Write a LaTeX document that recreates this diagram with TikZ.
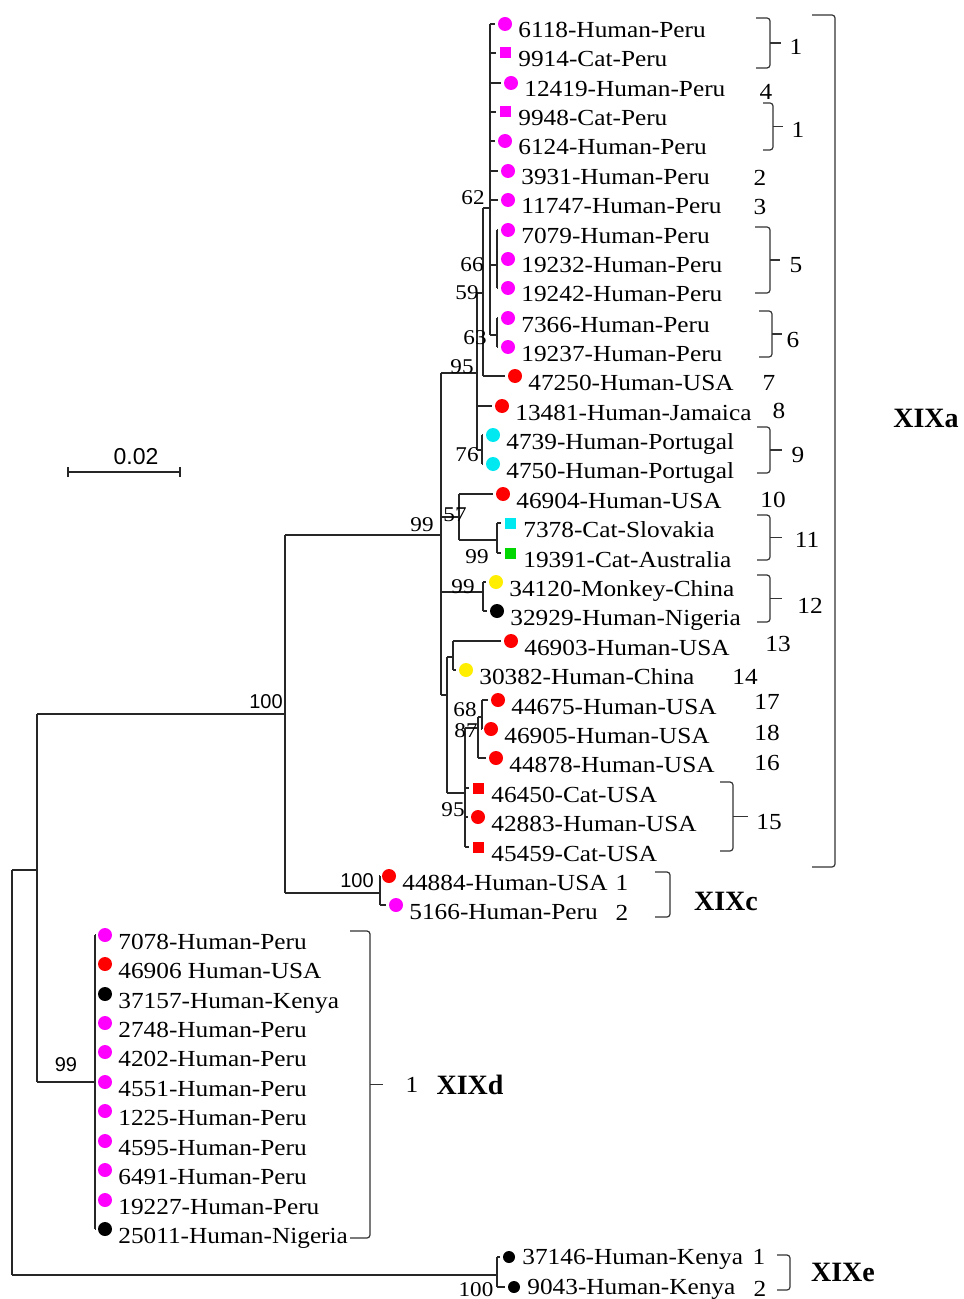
\documentclass[tikz,border=0pt]{standalone}
\usepackage{fontspec}
\setmainfont{Liberation Serif}[FakeStretch=1.1]
\setsansfont{Liberation Sans}
\newfontfamily\cladefont{Liberation Serif}
\definecolor{pink}{RGB}{255,0,255}
\definecolor{scarlet}{RGB}{255,0,0}
\definecolor{aqua}{RGB}{0,232,240}
\definecolor{lime}{RGB}{0,215,0}
\definecolor{gold}{RGB}{255,238,0}
\definecolor{ink}{RGB}{0,0,0}
\tikzset{
  br/.style={line width=0.65pt,draw=black!85},
  brk/.style={line width=0.6pt,draw=black!80,rounded corners=1.5pt},
  dot/.style={circle,inner sep=0pt,minimum size=7pt},
  sq/.style={rectangle,inner sep=0pt,minimum size=5.5pt},
  dotE/.style={dot,minimum size=6pt,yshift=-3.5pt},
  leaf/.style={anchor=base west,inner sep=0pt,font=\fontsize{11.5}{13}\selectfont},
  num/.style={inner sep=0pt,font=\fontsize{11.5}{13}\selectfont},
  boot/.style={inner sep=0pt,font=\fontsize{10.5}{12}\selectfont},
  bootS/.style={inner sep=0pt,font=\sffamily\fontsize{10}{12}\selectfont},
  clade/.style={inner sep=0pt,font=\cladefont\fontsize{14}{16}\selectfont\bfseries}
}
\begin{document}
\begin{tikzpicture}[x=0.5pt,y=-0.5pt]
  \useasboundingbox (0,0) rectangle (963,1299);

  \foreach \i/\mx/\yc/\col/\shp/\txt in {
    1/505/31/pink/dot/6118-Human-Peru, 2/505/60/pink/sq/9914-Cat-Peru,
    3/511/90/pink/dot/12419-Human-Peru, 4/505/119/pink/sq/9948-Cat-Peru,
    5/505/148/pink/dot/6124-Human-Peru, 6/508/178/pink/dot/3931-Human-Peru,
    7/508/207/pink/dot/11747-Human-Peru, 8/508/237/pink/dot/7079-Human-Peru,
    9/508/266/pink/dot/19232-Human-Peru, 10/508/295/pink/dot/19242-Human-Peru,
    11/508/325/pink/dot/7366-Human-Peru, 12/508/354/pink/dot/19237-Human-Peru,
    13/515/383/scarlet/dot/47250-Human-USA, 14/502/413/scarlet/dot/13481-Human-Jamaica,
    15/493/442/aqua/dot/4739-Human-Portugal, 16/493/471/aqua/dot/4750-Human-Portugal,
    17/503/501/scarlet/dot/46904-Human-USA, 18/510/530/aqua/sq/7378-Cat-Slovakia,
    19/510/560/lime/sq/19391-Cat-Australia, 20/496/589/gold/dot/34120-Monkey-China,
    21/497/618/ink/dot/32929-Human-Nigeria, 22/511/648/scarlet/dot/46903-Human-USA,
    23/466/677/gold/dot/30382-Human-China, 24/498/707/scarlet/dot/44675-Human-USA,
    25/491/736/scarlet/dot/46905-Human-USA, 26/496/765/scarlet/dot/44878-Human-USA,
    27/478/795/scarlet/sq/46450-Cat-USA, 28/478/824/scarlet/dot/42883-Human-USA,
    29/478/854/scarlet/sq/45459-Cat-USA, 30/389/883/scarlet/dot/44884-Human-USA,
    31/396/912/pink/dot/5166-Human-Peru,
    32/105/942/pink/dot/7078-Human-Peru, 33/105/971/scarlet/dot/46906 Human-USA,
    34/105/1001/ink/dot/37157-Human-Kenya, 35/105/1030/pink/dot/2748-Human-Peru,
    36/105/1059/pink/dot/4202-Human-Peru, 37/105/1089/pink/dot/4551-Human-Peru,
    38/105/1118/pink/dot/1225-Human-Peru, 39/105/1148/pink/dot/4595-Human-Peru,
    40/105/1177/pink/dot/6491-Human-Peru, 41/105/1207/pink/dot/19227-Human-Peru,
    42/105/1236/ink/dot/25011-Human-Nigeria,
    43/509/1257/ink/dotE/37146-Human-Kenya, 44/514/1287/ink/dotE/9043-Human-Kenya}{
    \node[\shp,fill=\col] (m\i) at (\mx,\yc-7) {};
    \node[leaf] (l\i) at (\mx+13,\yc+7) {\txt};
    \coordinate (t\i) at ([xshift=-1.5pt]m\i.west);
  }

  \coordinate (root) at (12,870);
  \coordinate (nA) at (37,870);
  \coordinate (nB) at (285,714);
  \coordinate (nC) at (380,893);
  \coordinate (nD) at (95,1082);
  \coordinate (nE) at (497,1275);
  \coordinate (n99) at (441,535);
  \coordinate (n95) at (477,373);
  \coordinate (n59) at (483,293);
  \coordinate (n62) at (490,208);
  \coordinate (n66) at (497,265);
  \coordinate (n63) at (497,335);
  \coordinate (n76) at (482,450);
  \coordinate (n57) at (459,517);
  \coordinate (n99c) at (497,540);
  \coordinate (n99b) at (483,592);
  \coordinate (nX) at (447,695);
  \coordinate (nY) at (453,657);
  \coordinate (n95b) at (465,793);
  \coordinate (n87) at (478,728);
  \coordinate (n68) at (482,717);

  \foreach \p/\a/\b in {root/nA/nE, nA/nB/nD, nB/n99/nC, nC/t30/t31, nD/t32/t42,
    nE/t43/t44, n99/n95/nX, n95/n59/n76, n59/n62/t13, n62/t1/n63, n66/t8/t10,
    n63/t11/t12, n76/t15/t16, n57/t17/n99c, n99c/t18/t19, n99b/t20/t21,
    nX/nY/n95b, nY/t22/t23, n95b/n87/t29, n87/n68/t26, n68/t24/t25}
    \draw[br] (\p |- \a) -- (\p |- \b);

  \foreach \p/\c in {root/nA, root/nE, nA/nB, nA/nD, nB/n99, nB/nC, nC/t30, nC/t31,
    nD/t32, nD/t33, nD/t34, nD/t35, nD/t36, nD/t37, nD/t38, nD/t39, nD/t40, nD/t41, nD/t42,
    nE/t43, nE/t44, n99/n95, n99/n57, n99/n99b, n99/nX, n95/n59, n95/t14, n95/n76,
    n59/n62, n59/t13, n62/t1, n62/t2, n62/t3, n62/t4, n62/t5, n62/t6, n62/t7,
    n62/n66, n62/n63, n66/t8, n66/t9, n66/t10, n63/t11, n63/t12, n76/t15, n76/t16,
    n57/t17, n57/n99c, n99c/t18, n99c/t19, n99b/t20, n99b/t21, nX/nY, nX/n95b,
    nY/t22, nY/t23, n95b/n87, n95b/t27, n95b/t28, n95b/t29, n87/n68, n87/t26,
    n68/t24, n68/t25}
    \draw[br] (\p |- \c) -- (\c);

  \foreach \n/\x/\y/\s in {a/473/198/62, b/472/265/66, c/467/293/59, d/475/338/63,
    e/462/367/95, f/467/455/76, g/455/515/57, h/477/557/99, i/463/587/99,
    j/422/525/99, k/465/710/68, l/466/731/87, m/453/810/95, n/476/1290/100}
    \node[boot] (b\n) at (\x,\y) {\s};
  \node[bootS] (bB) at (266,702) {100};
  \node[bootS] (bC) at (357,881) {100};
  \node[bootS] (bD) at (66,1065) {99};

  \foreach \xa/\xb/\ya/\yb/\xc in {756/770/18/68/781, 763/773/103/150/783,
    755/770/227/293/780, 759/772/311/357/782, 757/770/427/473/782,
    757/770/515/560/782, 757/770/575/622/782, 720/733/782/851/748,
    350/370/931/1238/383}{
    \draw[brk] (\xa,\ya) -- (\xb,\ya) -- (\xb,\yb) -- (\xa,\yb);
    \draw[brk] (\xb,{(\ya+\yb)/2}) -- (\xc,{(\ya+\yb)/2});
  }
  \foreach \xa/\xb/\ya/\yb in {812/835/15/867, 655/670/872/917, 777/790/1255/1290}
    \draw[brk] (\xa,\ya) -- (\xb,\ya) -- (\xb,\yb) -- (\xa,\yb);

  \foreach \n/\x/\y/\s in {1/796/47/1, 2/766/92/4, 3/798/130/1, 4/760/178/2,
    5/760/207/3, 6/796/265/5, 7/793/340/6, 8/769/383/7, 9/779/411/8, 10/798/455/9,
    11/773/500/10, 12/807/540/11, 13/810/606/12, 14/778/644/13, 15/745/677/14,
    16/767/702/17, 17/767/733/18, 18/767/763/16, 19/769/822/15,
    20/622/883/1, 21/622/913/2, 22/412/1085/1, 23/759/1257/1, 24/760/1289/2}
    \node[num] (g\n) at (\x,\y) {\s};

  \node[clade] (cA) at (926,418) {XIXa};
  \node[clade] (cC) at (726,901) {XIXc};
  \node[clade] (cD) at (470,1085) {XIXd};
  \node[clade] (cE) at (843,1272) {XIXe};

  \coordinate (s0) at (68,472);
  \coordinate (s1) at (180,472);
  \draw[br] (s0) -- (s1);
  \draw[br] ([yshift=2.5pt]s0) -- ([yshift=-2.5pt]s0);
  \draw[br] ([yshift=2.5pt]s1) -- ([yshift=-2.5pt]s1);
  \node[inner sep=0pt,font=\sffamily\fontsize{11.5}{14}\selectfont] (sl) at (136,457) {0.02};
\end{tikzpicture}
\end{document}
